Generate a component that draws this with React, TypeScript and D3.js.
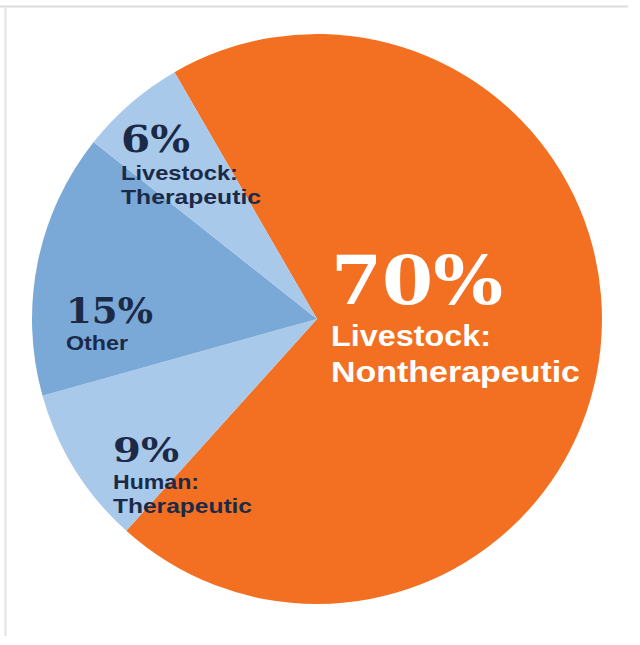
import React from "react";
import * as d3 from "d3";

// ---- data ----
const categories = ["Livestock: Nontherapeutic", "Human: Therapeutic", "Other", "Livestock: Therapeutic"];
const values = [70, 9, 15, 6];
const labelLines = [
  ["Livestock:", "Nontherapeutic"],
  ["Human:", "Therapeutic"],
  ["Other"],
  ["Livestock:", "Therapeutic"],
];

// ---- styles / layout (not data) ----
const colors = ["#F37022", "#A9C9EA", "#7AA9D7", "#A9C9EA"];
const W = 640;
const H = 645;
const cx = 317;
const cy = 319;
const R = 285;

type LabelLayout = {
  x: number; pctY: number; pctSize: number; pctW: number;
  lineYs: number[]; lineSize: number; lineWs: number[]; fill: string;
};
const layouts: LabelLayout[] = [
  { x: 331, pctY: 304, pctSize: 68, pctW: 172, lineYs: [346, 382], lineSize: 29, lineWs: [160, 249], fill: "#ffffff" },
  { x: 113, pctY: 462, pctSize: 34, pctW: 66, lineYs: [489, 513], lineSize: 21, lineWs: [86, 139], fill: "#1B2A47" },
  { x: 66, pctY: 323, pctSize: 36, pctW: 87, lineYs: [350], lineSize: 21, lineWs: [62], fill: "#1B2A47" },
  { x: 121, pctY: 152, pctSize: 37, pctW: 69, lineYs: [180, 204], lineSize: 21, lineWs: [117, 140], fill: "#1B2A47" },
];

export default function App() {
  const pie = d3
    .pie<number>()
    .sort(null)
    .value((d) => d)
    .startAngle((-30 * Math.PI) / 180)
    .endAngle((330 * Math.PI) / 180);
  const arcs = pie(values);
  const arc = d3.arc<d3.PieArcDatum<number>>().innerRadius(0).outerRadius(R);

  return (
    <svg
      width={W}
      height={H}
      style={{ position: "absolute", left: 0, top: 0, background: "#ffffff" }}
    >
      <line x1={0} y1={6.5} x2={628} y2={6.5} stroke="#dcdcdc" strokeWidth={2} />
      <line x1={5.5} y1={8} x2={5.5} y2={636} stroke="#e2e2e2" strokeWidth={2} />
      <g transform={`translate(${cx},${cy})`}>
        {arcs.map((a, i) => (
          <path key={categories[i]} d={arc(a) || ""} fill={colors[i]} />
        ))}
      </g>
      {arcs.map((a, i) => {
        const L = layouts[i];
        return (
          <g key={"lbl" + i}>
            <text
              x={L.x}
              y={L.pctY}
              fill={L.fill}
              fontFamily="'DejaVu Serif', serif"
              fontWeight={900}
              fontSize={L.pctSize}
              textLength={L.pctW}
              lengthAdjust="spacingAndGlyphs"
            >
              {`${values[i]}%`}
            </text>
            {labelLines[i].map((t, j) => (
              <text
                key={j}
                x={L.x}
                y={L.lineYs[j]}
                fill={L.fill}
                fontFamily="'Liberation Sans', Arial, sans-serif"
                fontWeight={700}
                fontSize={L.lineSize}
                textLength={L.lineWs[j]}
                lengthAdjust="spacingAndGlyphs"
              >
                {t}
              </text>
            ))}
          </g>
        );
      })}
    </svg>
  );
}
